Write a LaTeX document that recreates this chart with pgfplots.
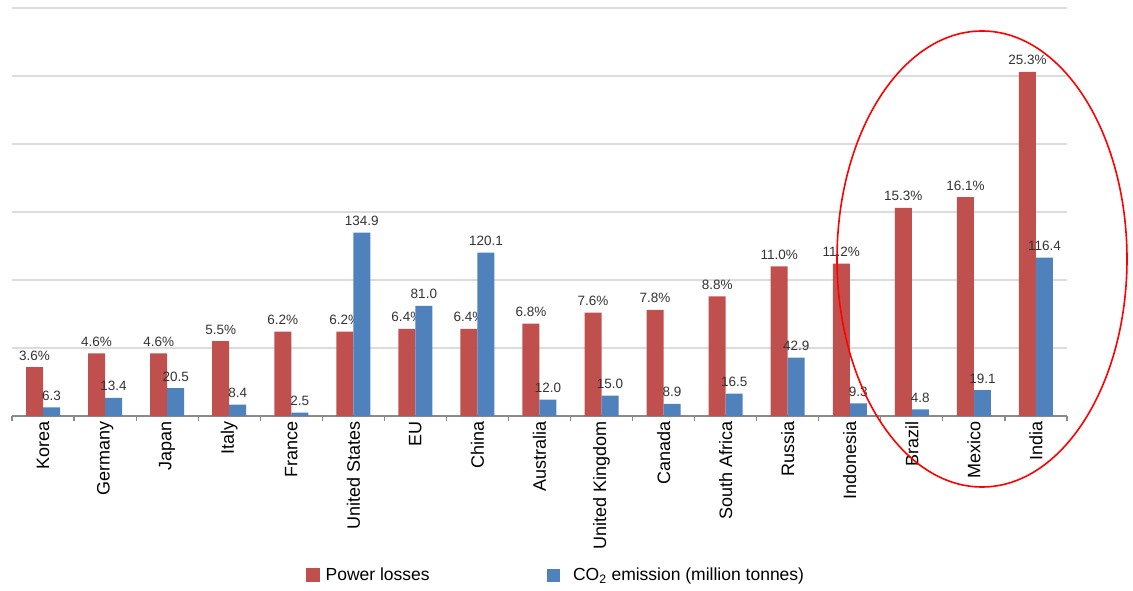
\documentclass[border=0pt]{standalone}
\usepackage{fontspec}
\setmainfont{Liberation Sans}
\usepackage{pgfplots}
\pgfplotsset{compat=1.18}
\usepackage{pgfplotstable}

\definecolor{lossred}{HTML}{C0504D}
\definecolor{co2blue}{HTML}{4F81BD}
\definecolor{gridgray}{HTML}{DCDCDC}
\definecolor{axisgray}{HTML}{8A8A8A}
\definecolor{labelgray}{HTML}{333333}

% power losses (%) and CO2 emission (million tonnes) per country
\pgfplotstableread{
idx loss co2
0  3.6   6.3
1  4.6  13.4
2  4.6  20.5
3  5.5   8.4
4  6.2   2.5
5  6.2 134.9
6  6.4  81.0
7  6.4 120.1
8  6.8  12.0
9  7.6  15.0
10 7.8   8.9
11 8.8  16.5
12 11.0 42.9
13 11.2  9.3
14 15.3  4.8
15 16.1 19.1
16 25.3 116.4
}\datatable

\begin{document}
\begin{tikzpicture}[x=1pt,y=1pt]
\useasboundingbox (0,0) rectangle (1133,590);
\pgfplotsset{
  base/.style={
    scale only axis, width=1055pt, height=408pt,
    at={(12pt,174pt)}, anchor=south west,
    xmin=-0.5, xmax=16.5, ymin=0,
    clip=false,
  },
  valuelabel/.style={
    every node near coord/.append style={
      font=\fontsize{13.5}{15}\selectfont, text=labelgray,
      anchor=base, yshift=7pt, xshift=#1, inner sep=0pt},
  },
}
% left scale: power losses
\begin{axis}[base, ymax=30,
  axis x line*=bottom, axis y line*=left,
  x axis line style={draw=axisgray, line width=1.2pt, -},
  y axis line style={draw=none},
  ytick={5,10,...,30}, yticklabels={},
  ymajorgrids, grid style={gridgray, line width=1.6pt},
  major y tick style={draw=none},
  xtick={0,...,16},
  xticklabels={Korea,Germany,Japan,Italy,France,United States,EU,China,Australia,United Kingdom,Canada,South Africa,Russia,Indonesia,Brazil,Mexico,India},
  minor xtick={-0.5,0.5,...,16.5},
  major x tick style={draw=none},
  minor x tick style={draw=axisgray, line width=1.2pt},
  tick align=outside, minor tick length=5pt,
  xticklabel style={rotate=90, anchor=east, inner sep=0pt, xshift=-1pt,
    font=\fontsize{18}{20}\selectfont},
  legend style={at={(0.2787,-0.3897)}, anchor=west, draw=none, fill=none,
    inner sep=0pt, font=\fontsize{17.5}{19}\selectfont,
    legend columns=2,
    /tikz/every odd column/.append style={column sep=4pt},
    /tikz/every even column/.append style={column sep=115pt}},
  legend cell align=left,
]
\addplot[ybar, bar width=17pt, bar shift=-8.5pt, fill=lossred, draw=none,
  forget plot, point meta=y, valuelabel=-8.5pt,
  nodes near coords={\pgfmathprintnumber[fixed,fixed zerofill,precision=1,assume math mode=true]{\pgfplotspointmeta}\%}]
  table[x=idx, y=loss] {\datatable};
\addlegendimage{legend image code/.code={\fill[lossred] (0pt,-6.5pt) rectangle (13pt,6.5pt);}}
\addlegendentry{Power losses}
\addlegendimage{legend image code/.code={\fill[co2blue] (0pt,-6pt) rectangle (12pt,6pt); \path (20pt,0pt);}}
\addlegendentry{CO\textsubscript{2} emission (million tonnes)}
\end{axis}

% right scale: CO2 emission
\begin{axis}[base, ymax=300, hide axis]
\addplot[ybar, bar width=17pt, bar shift=8.5pt, fill=co2blue, draw=none,
  point meta=y, valuelabel=8.5pt,
  nodes near coords={\pgfmathprintnumber[fixed,fixed zerofill,precision=1,assume math mode=true]{\pgfplotspointmeta}}]
  table[x=idx, y=co2] {\datatable};
\end{axis}

% highlight of the countries with the highest losses
\draw[red, line width=1.6pt] (982,331) ellipse [x radius=145, y radius=228];
\end{tikzpicture}
\end{document}
